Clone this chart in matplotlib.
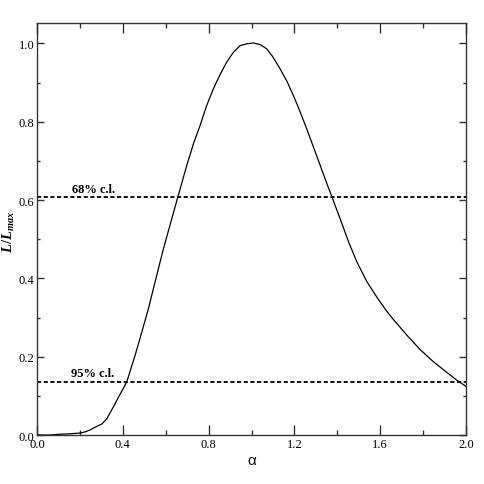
import matplotlib
matplotlib.use("Agg")
import matplotlib.pyplot as plt
from matplotlib.ticker import MultipleLocator, FormatStrFormatter

alpha = [0.0, 0.06, 0.107, 0.15, 0.2, 0.225, 0.247, 0.278, 0.302, 0.325, 0.359, 0.387,
         0.418, 0.457, 0.488, 0.519, 0.550, 0.589, 0.620, 0.654, 0.70, 0.73, 0.760, 0.79,
         0.822, 0.853, 0.884, 0.915, 0.946, 0.978, 1.009, 1.04, 1.071, 1.10, 1.133,
         1.165, 1.195, 1.226, 1.257, 1.288, 1.319, 1.347, 1.374, 1.413, 1.451, 1.490,
         1.537, 1.584, 1.630, 1.661, 1.724, 1.786, 1.848, 1.910, 1.957, 2.0]
like = [0.0, 0.0, 0.002, 0.003, 0.005, 0.008, 0.013, 0.022, 0.028, 0.041, 0.075, 0.104,
        0.135, 0.203, 0.262, 0.322, 0.390, 0.475, 0.536, 0.603, 0.692, 0.745, 0.790, 0.840,
        0.884, 0.920, 0.952, 0.977, 0.994, 0.999, 1.001, 0.997, 0.986, 0.965, 0.935,
        0.903, 0.867, 0.826, 0.782, 0.736, 0.690, 0.648, 0.609, 0.552, 0.495, 0.443,
        0.392, 0.352, 0.316, 0.295, 0.255, 0.218, 0.187, 0.160, 0.140, 0.124]

cl_levels = [0.607, 0.135]
cl_labels = ["68% c.l.", "95% c.l."]
cl_label_x = [0.163, 0.158]
cl_label_y = [0.621, 0.151]

plt.rcParams['font.family'] = ['Liberation Serif', 'DejaVu Serif']
plt.rcParams['mathtext.fontset'] = 'custom'
plt.rcParams['mathtext.it'] = 'Liberation Serif:italic:bold'
plt.rcParams['mathtext.rm'] = 'Liberation Serif:bold'
plt.rcParams['lines.scale_dashes'] = False

fig = plt.figure(figsize=(4.85, 4.85), dpi=100)
ax = fig.add_axes([0.0763, 0.101, 0.961 - 0.0763, 0.9505 - 0.101])

ax.plot(alpha, like, color='black', lw=0.9)
for lev, lab, lx, ly in zip(cl_levels, cl_labels, cl_label_x, cl_label_y):
    ax.axhline(lev, color='black', lw=1.3, dashes=(3.0, 1.8))
    ax.text(lx, ly, lab, fontsize=9, fontweight='bold', ha='left', va='baseline')

ax.set_xlim(0, 2.0)
ax.set_ylim(0, 1.052)
ax.xaxis.set_major_locator(MultipleLocator(0.4))
ax.xaxis.set_minor_locator(MultipleLocator(0.2))
ax.yaxis.set_major_locator(MultipleLocator(0.2))
ax.yaxis.set_minor_locator(MultipleLocator(0.1))
ax.xaxis.set_major_formatter(FormatStrFormatter('%.1f'))
ax.yaxis.set_major_formatter(FormatStrFormatter('%.1f'))

ax.tick_params(which='both', direction='in', top=True, right=True, labelsize=9,
               color='#333333')
ax.tick_params(axis='x', which='major', length=7, width=1, pad=2)
ax.tick_params(axis='x', which='minor', length=3.5, width=1)
ax.tick_params(axis='y', which='major', length=5, width=1, pad=2)
ax.tick_params(axis='y', which='minor', length=2.5, width=1)
for s in ax.spines.values():
    s.set_linewidth(1.0)
    s.set_color('#333333')

ax.set_xlabel('α', fontsize=11, family=['Liberation Sans', 'DejaVu Sans'], labelpad=2)
ax.set_ylabel(r'$L/L_{max}$', fontsize=10.5)
ax.yaxis.set_label_coords(-0.047, 0.495)

fig.savefig('out.png', dpi=100)
